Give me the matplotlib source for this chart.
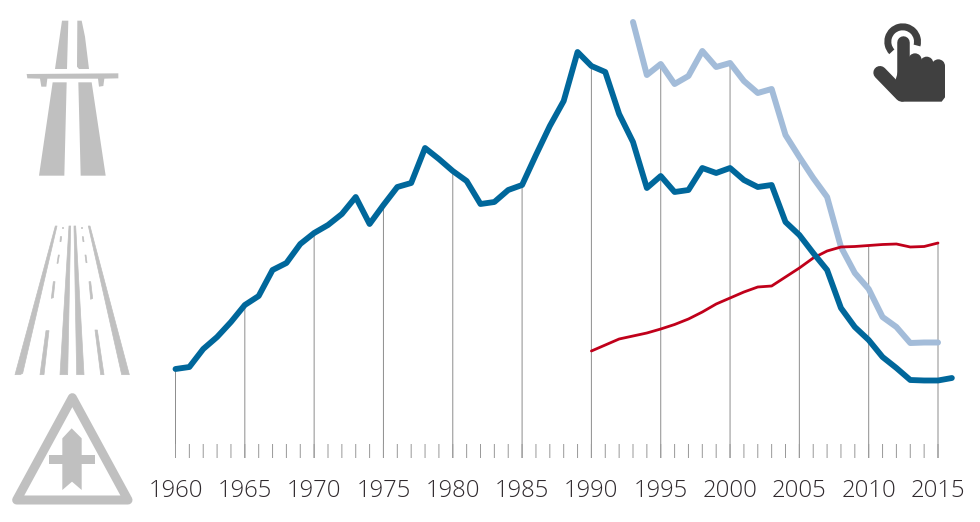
import numpy as np
import matplotlib
matplotlib.use('Agg')
from matplotlib import pyplot as plt
from matplotlib.patches import Polygon, Wedge, Circle

# years and values (height above the base line)
years_blue = list(range(1960, 2017))
blue = [89, 91, 109, 121, 136, 153, 162, 188, 195, 214, 225, 233, 244, 261, 234, 253, 271, 275, 310, 299,
        287, 277, 254, 256, 268, 273, 303, 332, 357, 406, 392, 386, 344, 316, 270, 282, 266, 268, 290, 285,
        290, 278, 271, 273, 236, 223, 205, 188, 150, 131, 118, 101, 90, 78, 77.5, 77.5, 80]
years_light = list(range(1993, 2016))
light = [436, 383, 394, 374, 382, 407, 391, 395, 377, 365, 369, 323, 301, 280, 261, 211, 185, 169, 141, 131,
         115, 115.5, 115.5]
years_red = list(range(1990, 2016))
red = [107, 113, 119, 122, 125, 129, 133.5, 139, 146, 154, 160, 166, 171, 172, 181, 190, 200, 207, 211, 211.5,
       212.5, 213.5, 214, 211, 211.5, 215]
label_years = list(range(1960, 2016, 5))
all_years = list(range(1960, 2016))

GREY = '#c0c0c0'
W, H = 980, 522

fig = plt.figure(figsize=(W / 100, H / 100), dpi=100)

# chart axes: 1960..2015 -> 175.5..938 px, 0..458 -> 458..0 px
ax = fig.add_axes([175.5 / W, (H - 458) / H, (938 - 175.5) / W, 458 / H])
ax.set_xlim(1960, 2015)
ax.set_ylim(0, 458)
ax.patch.set_alpha(0)
for s in ax.spines.values():
    s.set_visible(False)
ax.set_yticks([])
ax.set_xticks(label_years)
ax.set_xticklabels(label_years, fontfamily='Open Sans', fontweight=300, fontsize=17.2, color='#2f292d')
ax.tick_params(axis='x', length=0, pad=15)

# tall lines reach the top series of that year
series = [(years_blue, blue), (years_light, light), (years_red, red)]
for yr in label_years:
    top = max(v[ys.index(yr)] for ys, v in series if yr in ys)
    ax.vlines(yr, 0, top, color='#8f8f8f', lw=0.72, snap=False, zorder=1, clip_on=False)
ax.vlines(all_years, 0, 14, color='#9a9a9a', lw=0.72, snap=False, zorder=1, clip_on=False)

ax.plot(years_light, light, color='#a3bcd9', lw=4.3, solid_capstyle='round', solid_joinstyle='round', clip_on=False, zorder=2)
ax.plot(years_red, red, color='#c0001a', lw=2.0, solid_capstyle='round', solid_joinstyle='round', clip_on=False, zorder=3)
ax.plot(years_blue, blue, color='#00679b', lw=4.2, solid_capstyle='round', solid_joinstyle='round', clip_on=False, zorder=4)

# icons, drawn in pixel coordinates
ic = fig.add_axes([0, 0, 1, 1])
ic.set_xlim(0, W)
ic.set_ylim(H, 0)
ic.axis('off')
ic.patch.set_alpha(0)


def poly(pts, x0=0, y0=0, color=GREY, lw=0):
    pts = [(x0 + a / 3, y0 + b / 3) for a, b in pts]
    ic.add_patch(Polygon(pts, closed=True, fc=color, ec=color if lw else 'none', lw=lw, joinstyle='round'))


# motorway
poly([(186, 62), (205, 62), (201, 207), (165, 207)])
poly([(232, 62), (245, 62), (255, 110), (267, 207), (237, 207), (231, 200)])
poly([(80, 222), (355, 220), (355, 235), (313, 236), (310, 258), (297, 260), (294, 236),
      (142, 236), (139, 260), (124, 260), (120, 236), (82, 235)])
poly([(158, 247), (200, 247), (193, 527), (117, 527)])
poly([(235, 247), (275, 247), (317, 527), (242, 527)])

# road
road = [
    [(166, 48), (171, 48), (68, 490), (60, 494), (45, 494)],
    [(265, 48), (270, 48), (388, 494), (365, 494)],
    [(207, 48), (212, 48), (203, 494), (180, 494)],
    [(222, 48), (227, 48), (252, 494), (230, 494)],
    [(138, 362), (147, 362), (132, 494), (120, 494)],
    [(160, 215), (165, 215), (160, 263), (154, 265)],
    [(175, 135), (178, 135), (174, 160), (171, 160)],
    [(181, 80), (185, 80), (183, 95), (180, 95)],
    [(186, 50), (188, 50), (188, 54), (186, 54)],
    [(285, 360), (292, 360), (312, 494), (302, 494)],
    [(267, 215), (272, 215), (278, 265), (272, 268)],
    [(255, 135), (258, 135), (261, 158), (258, 158)],
    [(247, 80), (250, 80), (252, 95), (249, 95)],
    [(243, 50), (245, 50), (245, 54), (243, 54)],
]
for r in road:
    poly(r, 0, 210, lw=0.5)

# crossroads sign
tri = [(217 / 3, 385 + 38 / 3), (50 / 3, 385 + 345 / 3), (384 / 3, 385 + 345 / 3)]
ic.add_patch(Polygon(tri, closed=True, fc='none', ec=GREY, lw=6.5, joinstyle='round'))
poly([(187, 160), (215, 130), (245, 160), (245, 315), (216, 290), (187, 315)], 0, 385)
poly([(147, 211), (285, 211), (285, 238), (147, 238)], 0, 385)

# hand
HAND = '#404040'
hx = lambda a: 860 + a / 3
hy = lambda b: 10 + b / 3
ic.add_patch(Wedge((hx(128), hy(95)), 55 / 3, 137, 375, width=21 / 3, fc=HAND, ec='none'))
ic.plot([hx(128), hx(128)], [hy(95), hy(200)], color=HAND, lw=9.0, solid_capstyle='round')
ic.plot([hx(60), hx(125)], [hy(188), hy(255)], color=HAND, lw=9.6, solid_capstyle='round')
for a, b in [(165, 150), (200, 160), (235, 168)]:
    ic.add_patch(Circle((hx(a), hy(b)), 20 / 3, fc=HAND, ec='none'))
poly([(125, 150), (255, 168), (255, 262), (245, 275), (125, 275), (100, 255), (108, 205)], 860, 10, HAND)

fig.savefig('out.png', dpi=100)
